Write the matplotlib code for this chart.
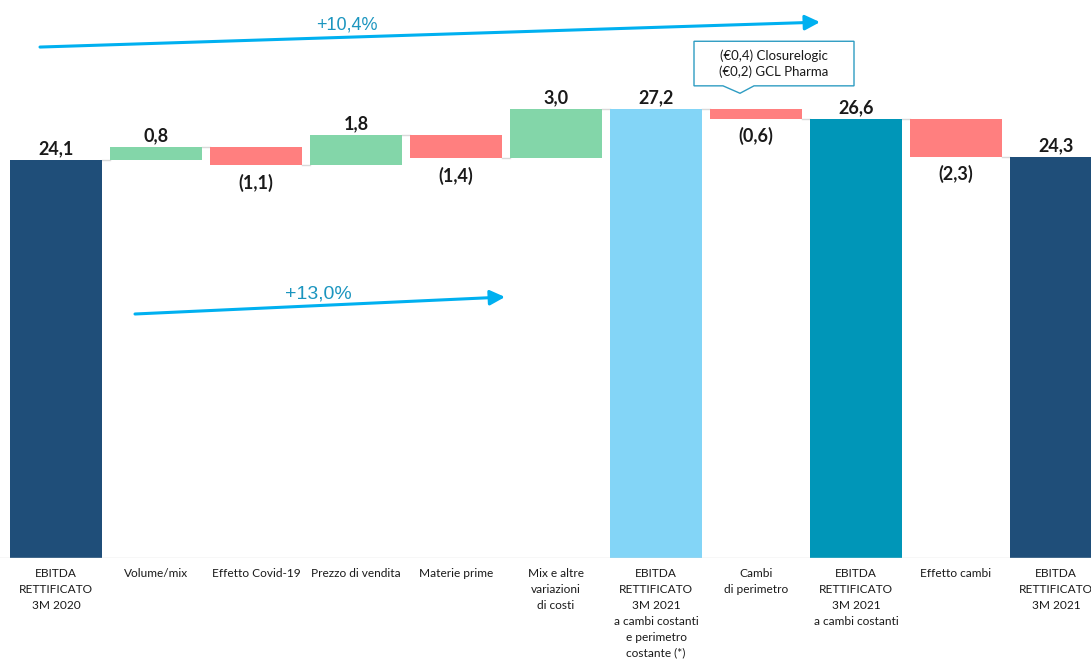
import matplotlib.pyplot as plt
from matplotlib.patches import Polygon
import numpy as np

# Dati del ponte EBITDA (milioni di euro)
categorie = ['EBITDA\nRETTIFICATO\n3M 2020', 'Volume/mix', 'Effetto Covid-19',
             'Prezzo di vendita', 'Materie prime', 'Mix e altre\nvariazioni\ndi costi',
             'EBITDA\nRETTIFICATO\n3M 2021\na cambi costanti\ne perimetro\ncostante (*)',
             'Cambi\ndi perimetro', 'EBITDA\nRETTIFICATO\n3M 2021\na cambi costanti',
             'Effetto cambi', 'EBITDA\nRETTIFICATO\n3M 2021']
valori = [24.1, 0.8, -1.1, 1.8, -1.4, 3.0, 27.2, -0.6, 26.6, -2.3, 24.3]
totale = [True, False, False, False, False, False, True, False, True, False, True]
colori_totali = {0: '#1F4E79', 6: '#83D5F7', 8: '#0096B8', 10: '#1F4E79'}
crescite = ['+10,4%', '+13,0%']
nota_perimetro = '(€0,4) Closurelogic\n(€0,2) GCL Pharma'

verde = '#83D6A9'
rosso = '#FF7F7F'
grigio = '#D9D9D9'
azzurro = '#00B0F0'

def etichetta(v):
    s = f'{abs(v):.1f}'.replace('.', ',')
    return f'({s})' if v < 0 else s

fig = plt.figure(figsize=(10.91, 6.61), dpi=100)
ax = fig.add_axes([0, 103 / 661, 1, 558 / 661])

x = np.arange(len(valori))
w = 0.92
livello = 0.0
basi, altezze = [], []
for i, v in enumerate(valori):
    if totale[i]:
        basi.append(0.0)
        altezze.append(v)
        livello = v
    else:
        basi.append(livello if v > 0 else livello + v)
        altezze.append(abs(v))
        livello += v

cols = [colori_totali[i] if totale[i] else (verde if valori[i] > 0 else rosso)
        for i in range(len(valori))]
ax.bar(x, altezze, w, bottom=basi, color=cols, zorder=2)

# connettori grigi
livello = 0.0
for i, v in enumerate(valori[:-1]):
    livello = v if totale[i] else livello + v
    ax.plot([x[i] + w / 2, x[i + 1] - w / 2], [livello, livello], color=grigio, lw=1, zorder=1)

# etichette valori
for i, v in enumerate(valori):
    top = basi[i] + altezze[i]
    if totale[i] or v > 0:
        ax.annotate(etichetta(v), (x[i], top), xytext=(0, 2), textcoords='offset points',
                    ha='center', va='bottom', fontsize=13, fontweight='bold',
                    family='Lato', color='#1A1A1A')
    else:
        ax.annotate(etichetta(v), (x[i], basi[i]), xytext=(0, -6), textcoords='offset points',
                    ha='center', va='top', fontsize=13, fontweight='bold',
                    family='Lato', color='#1A1A1A')

ax.axhline(0, color=grigio, lw=1, zorder=3)

ax.set_xlim(-0.56, 10.35)
ax.set_ylim(0, 33.8)
ax.set_xticks(x)
ax.set_xticklabels(categorie, fontsize=8.6, family='Lato', linespacing=1.55, color='#1A1A1A')
ax.tick_params(axis='x', length=0, pad=7)
ax.set_yticks([])
for s in ax.spines.values():
    s.set_visible(False)

# frecce di crescita
ax.annotate('', xy=(7.64, 32.46), xytext=(-0.16, 30.95),
            arrowprops=dict(arrowstyle='-|>,head_length=0.9,head_width=0.45',
                            color=azzurro, lw=2.2, shrinkA=0, shrinkB=0))
ax.text(2.91, 32.3, crescite[0], ha='center', va='center', fontsize=13,
        family='Liberation Sans', color='#1B95BF')
ax.annotate('', xy=(4.49, 15.81), xytext=(0.79, 14.78),
            arrowprops=dict(arrowstyle='-|>,head_length=0.9,head_width=0.45',
                            color=azzurro, lw=2.2, shrinkA=0, shrinkB=0))
ax.text(2.62, 16.0, crescite[1], ha='center', va='center', fontsize=14,
        family='Liberation Sans', color='#1B95BF')

# riquadro nota perimetro
top7 = basi[7] + altezze[7]
cx = x[7]
poly = Polygon([(cx - 0.62, top7 + 4.1), (cx + 0.98, top7 + 4.1), (cx + 0.98, top7 + 1.4),
                (cx - 0.02, top7 + 1.4), (cx - 0.16, top7 + 0.95), (cx - 0.33, top7 + 1.4),
                (cx - 0.62, top7 + 1.4)], closed=True, facecolor='white',
               edgecolor='#2E9CC2', lw=1, zorder=4)
ax.add_patch(poly)
ax.text(cx + 0.18, top7 + 2.75, nota_perimetro, ha='center', va='center', fontsize=9.5,
        family='Lato', linespacing=1.35, color='#1A1A1A', zorder=5)

plt.savefig('out.png', dpi=100)
plt.close()
